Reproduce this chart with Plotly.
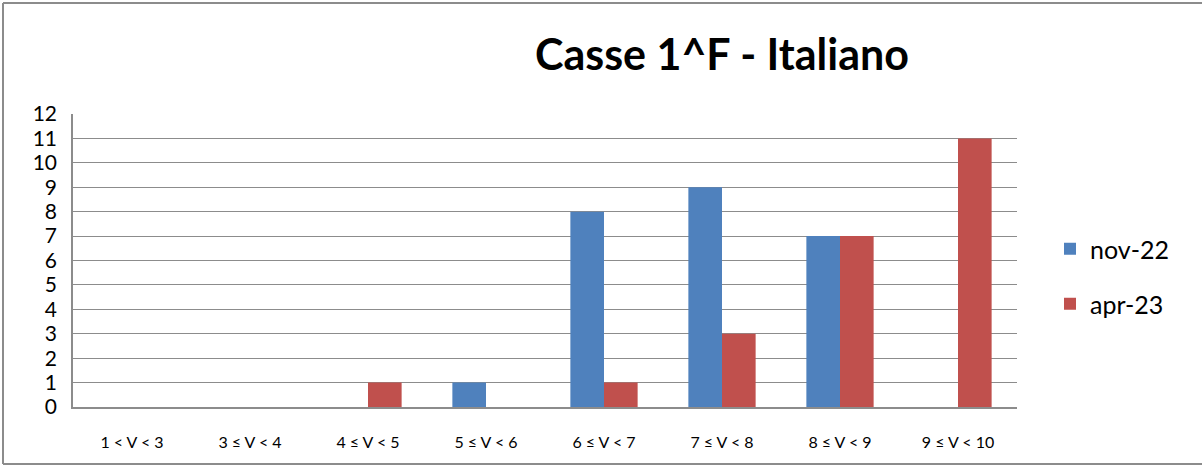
import plotly.graph_objects as go

categories = ["1 < V < 3", "3 ≤ V < 4", "4 ≤ V < 5", "5 ≤ V < 6",
              "6 ≤ V < 7", "7 ≤ V < 8", "8 ≤ V < 9", "9 ≤ V < 10"]
nov22 = [0, 0, 0, 1, 8, 9, 7, 0]
apr23 = [0, 0, 1, 0, 1, 3, 7, 11]
series_names = ["nov-22", "apr-23"]
colors = ["#4F81BD", "#C0504D"]

W, H = 1202, 466
L, R, T, B = 73, 185, 114, 59
pw = W - L - R
ph = H - T - B

FONT = "Lato"

fig = go.Figure()
fig.add_trace(go.Bar(x=categories, y=nov22, name=series_names[0],
                     marker=dict(color=colors[0], line=dict(width=0)),
                     legend="legend", showlegend=True))
fig.add_trace(go.Bar(x=categories, y=apr23, name=series_names[1],
                     marker=dict(color=colors[1], line=dict(width=0)),
                     legend="legend2", showlegend=True))

def px_x(p):
    return (p - L) / pw

def px_y(p):
    return (H - B - p) / ph

fig.update_layout(
    width=W, height=H,
    showlegend=True,
    margin=dict(l=L, r=R, t=T, b=B, autoexpand=False),
    paper_bgcolor="white", plot_bgcolor="white",
    barmode="group", bargap=0.43, bargroupgap=0,
    font=dict(family=FONT, color="black"),
    title=dict(text="<b>Casse 1^F - Italiano</b>", x=722 / W, xref="container",
               xanchor="center", y=1 - 55 / H, yref="container", yanchor="middle",
               font=dict(size=43, family=FONT, color="black")),
    xaxis=dict(showgrid=False, showline=True, linecolor="#8C8C8C", linewidth=1.5,
               ticks="", tickfont=dict(size=16, family=FONT), ticklabelstandoff=20),
    yaxis=dict(range=[0, 12], dtick=1, tick0=0, showgrid=True,
               gridcolor="#8C8C8C", gridwidth=1.3,
               showline=True, linecolor="#8C8C8C", linewidth=1.5,
               zeroline=False, ticks="", tickfont=dict(size=21, family=FONT),
               ticklabelstandoff=10),
    legend=dict(x=px_x(1050), y=px_y(249), xanchor="left", yanchor="middle",
                font=dict(size=25, family=FONT), bgcolor="rgba(0,0,0,0)"),
    legend2=dict(x=px_x(1050), y=px_y(304), xanchor="left", yanchor="middle",
                 font=dict(size=25, family=FONT), bgcolor="rgba(0,0,0,0)"),
    shapes=[
        dict(type="line", xref="paper", yref="paper",
             x0=px_x(3), x1=px_x(1202), y0=px_y(3), y1=px_y(3),
             line=dict(color="#8C8C8C", width=2), layer="below"),
        dict(type="line", xref="paper", yref="paper",
             x0=px_x(3), x1=px_x(1202), y0=px_y(464), y1=px_y(464),
             line=dict(color="#8C8C8C", width=2), layer="below"),
        dict(type="line", xref="paper", yref="paper",
             x0=px_x(3), x1=px_x(3), y0=px_y(464), y1=px_y(3),
             line=dict(color="#8C8C8C", width=2), layer="below"),
    ],
)

fig.write_html("out.html",
               config={"displayModeBar": False},
               post_script="document.body.style.margin='0';document.body.style.overflow='hidden';")
